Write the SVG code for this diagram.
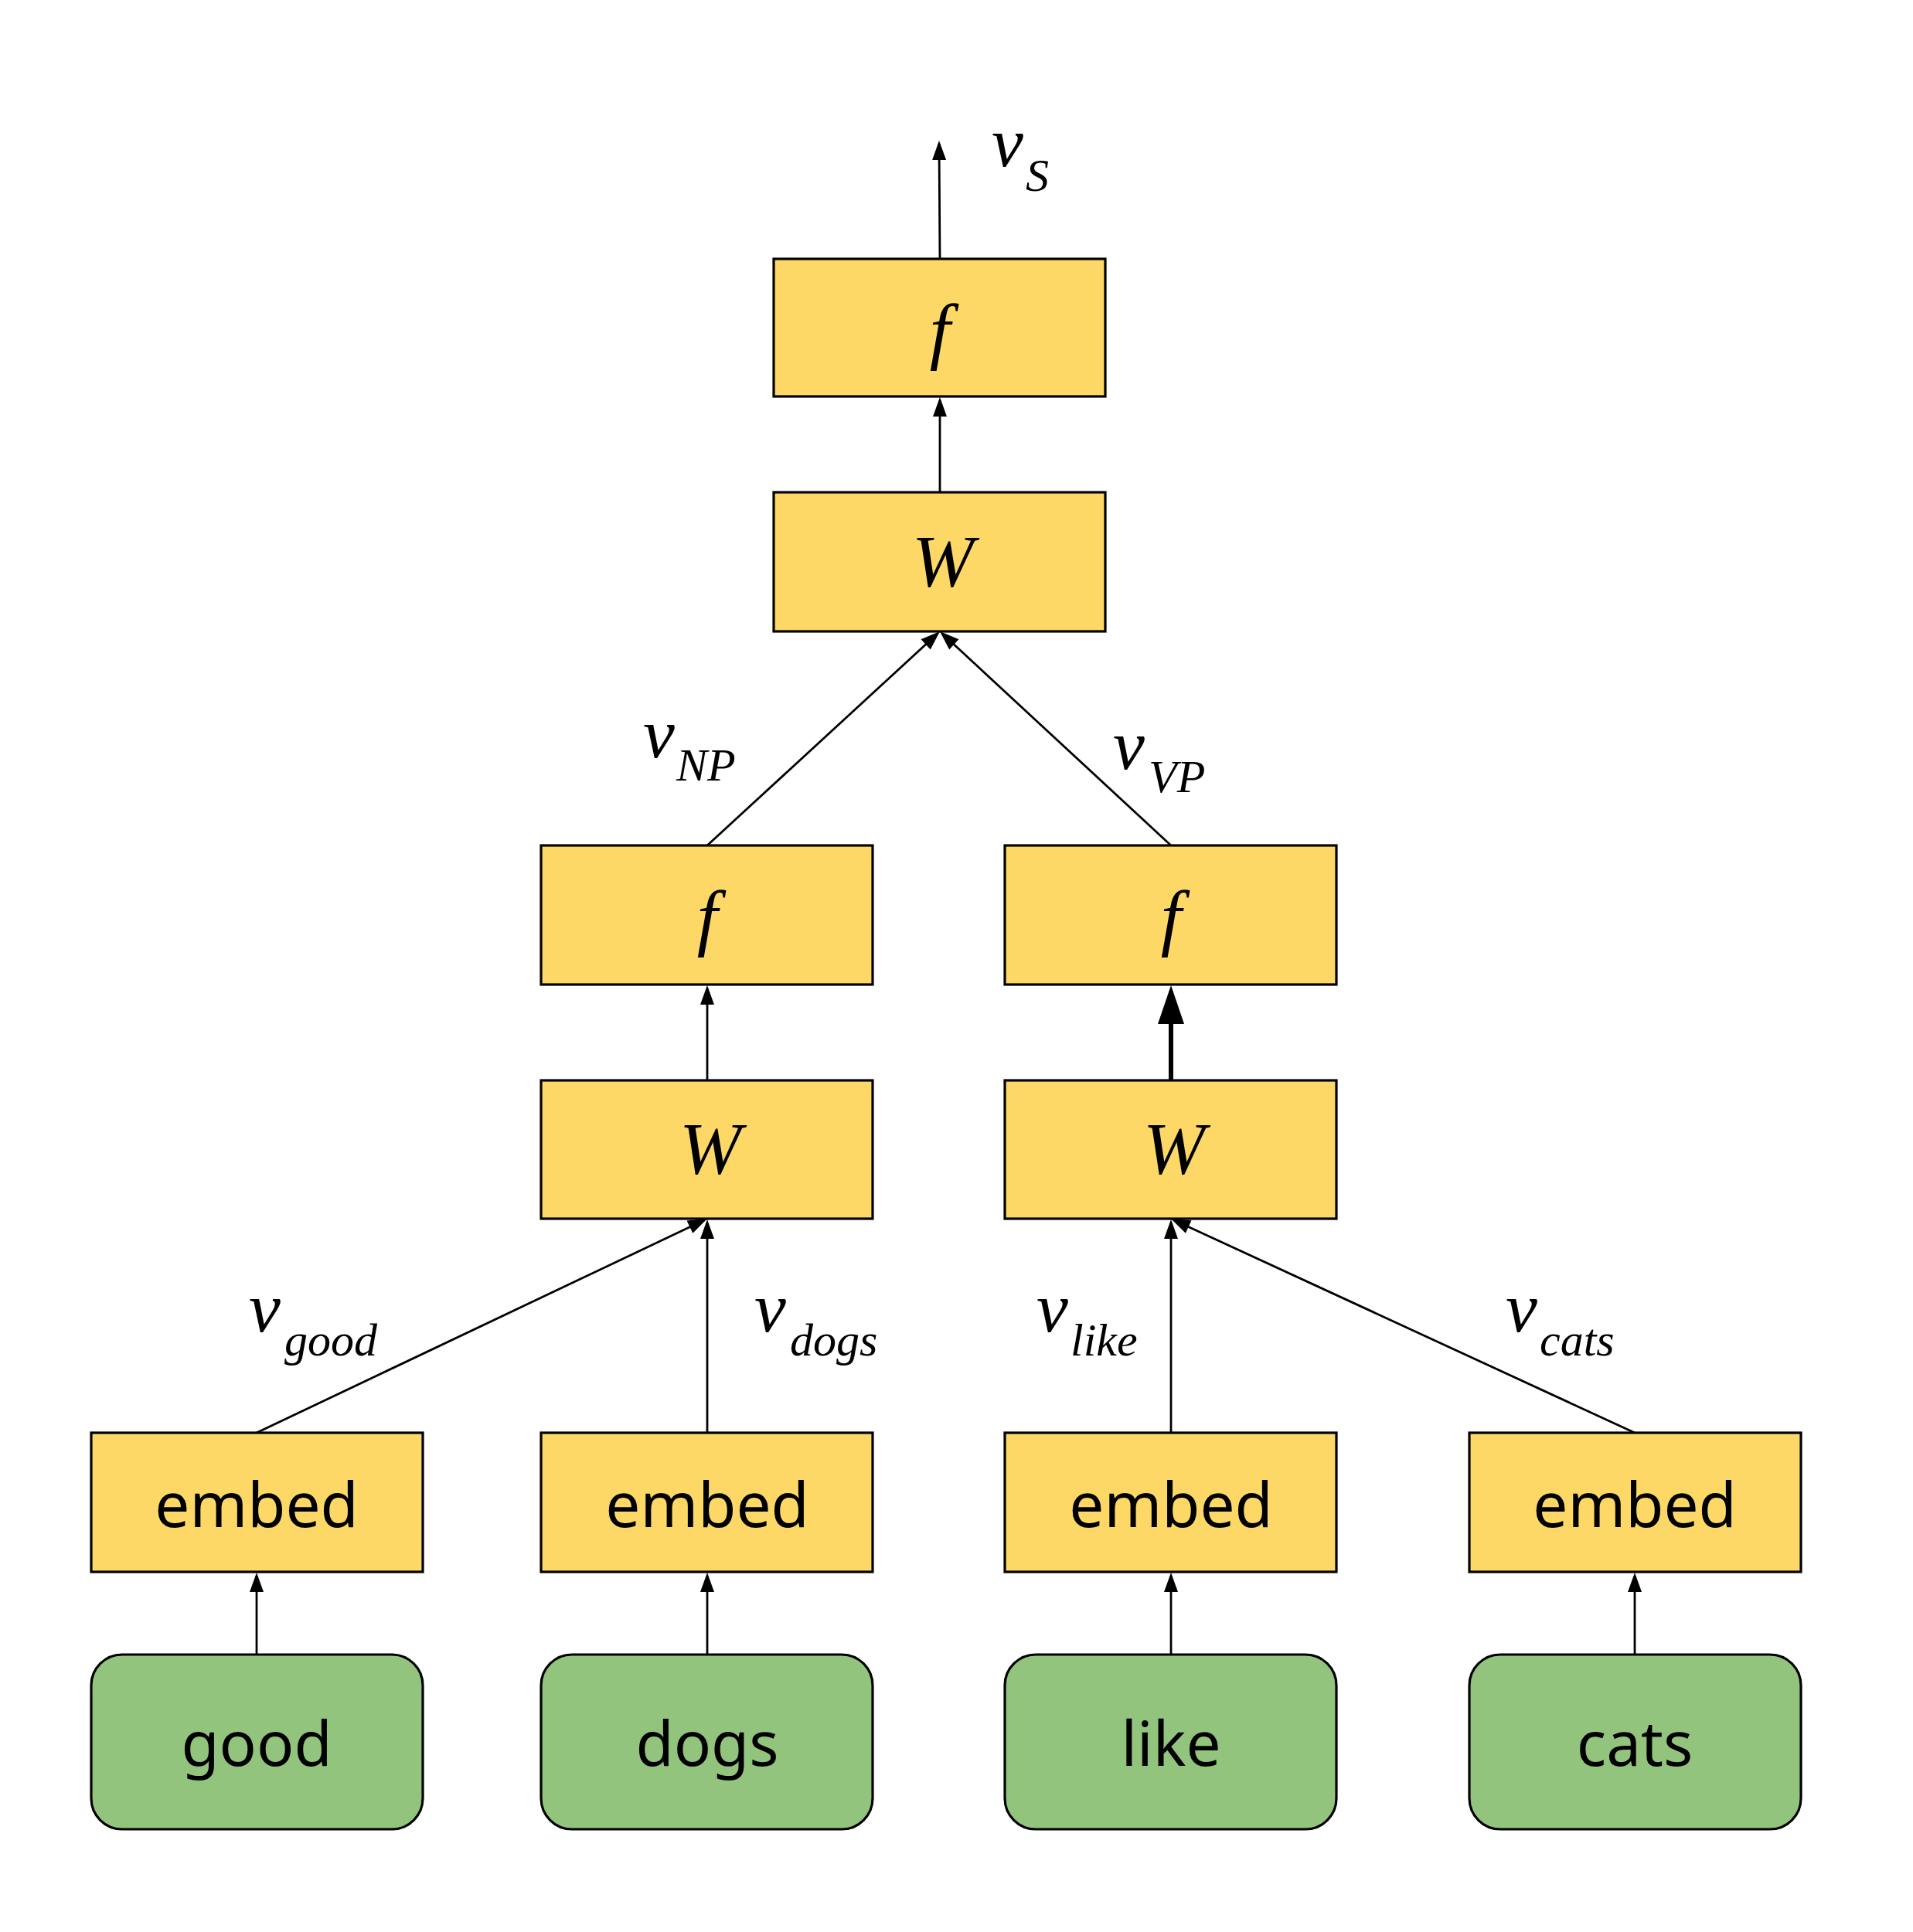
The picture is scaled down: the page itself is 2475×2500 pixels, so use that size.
<svg xmlns="http://www.w3.org/2000/svg" width="2475" height="2500" viewBox="0 0 2475 2500">
<style>
.box{fill:#FDD866;stroke:#000;stroke-width:3.2}
.word{fill:#93C47D;stroke:#000;stroke-width:3.2}
.math{font-family:"Liberation Serif","DejaVu Serif",serif;font-style:italic;fill:#000}
.big{font-size:92px}
.fn{font-size:96px}
.sub{font-size:60px}
.lbl{font-family:"Noto Sans","Open Sans",sans-serif;font-size:80px;fill:#000;text-anchor:middle}
.edge{stroke:#000;stroke-width:2.8;fill:none;marker-end:url(#ah)}
.edge-thick{stroke:#000;stroke-width:6;fill:none;marker-end:url(#ahb)}
</style>
<defs>
<marker id="ah" markerUnits="userSpaceOnUse" markerWidth="25" markerHeight="18" refX="21" refY="9" orient="auto" overflow="visible">
<path d="M0,0 L25,9 L0,18 z" fill="#000"/>
</marker>
<marker id="ahb" markerUnits="userSpaceOnUse" markerWidth="50" markerHeight="34" refX="42" refY="17" orient="auto" overflow="visible">
<path d="M0,0 L50,17 L0,34 z" fill="#000"/>
</marker>
</defs>
<rect width="2475" height="2500" fill="#fff"/>

<g id="connectors">
<line class="edge" x1="1216" y1="335" x2="1215" y2="186"/>
<line class="edge" x1="1216" y1="637" x2="1216" y2="518"/>
<line class="edge" x1="915" y1="1094" x2="1213.1" y2="819.7"/>
<line class="edge" x1="1515" y1="1094" x2="1218.9" y2="819.7"/>
<line class="edge" x1="915" y1="1398" x2="915" y2="1279"/>
<line class="edge-thick" x1="1515" y1="1398" x2="1515" y2="1283"/>
<line class="edge" x1="332" y1="1854" x2="911.4" y2="1578.7"/>
<line class="edge" x1="915" y1="1854" x2="915" y2="1582"/>
<line class="edge" x1="1515" y1="1854" x2="1515" y2="1582"/>
<line class="edge" x1="2115" y1="1854" x2="1518.6" y2="1578.7"/>
<line class="edge" x1="332" y1="2141" x2="332" y2="2039"/>
<line class="edge" x1="915" y1="2141" x2="915" y2="2039"/>
<line class="edge" x1="1515" y1="2141" x2="1515" y2="2039"/>
<line class="edge" x1="2115" y1="2141" x2="2115" y2="2039"/>
</g>

<g id="edge-labels">
<text class="math big" x="1283" y="215">v<tspan class="sub" x="1327" y="247">S</tspan></text>
<text class="math big" x="832" y="980">v<tspan class="sub" x="875" y="1010">NP</tspan></text>
<text class="math big" x="1440" y="995">v<tspan class="sub" x="1486" y="1025">VP</tspan></text>
<text class="math big" x="322" y="1723">v<tspan class="sub" x="368" y="1754">good</tspan></text>
<text class="math big" x="976" y="1723">v<tspan class="sub" x="1022" y="1754">dogs</tspan></text>
<text class="math big" x="1341" y="1723">v<tspan class="sub" x="1385" y="1754">like</tspan></text>
<text class="math big" x="1948" y="1723">v<tspan class="sub" x="1992" y="1754">cats</tspan></text>
</g>

<g id="f-top"><rect class="box" x="1001" y="335" width="429" height="178"/><text class="math fn" x="1216" y="460" text-anchor="middle">f</text></g>
<g id="W-top"><rect class="box" x="1001" y="637" width="429" height="180"/><text class="math fn" x="1220" y="759" text-anchor="middle">W</text></g>

<g id="f-left"><rect class="box" x="700" y="1094" width="429" height="180"/><text class="math fn" x="915" y="1219" text-anchor="middle">f</text></g>
<g id="f-right"><rect class="box" x="1300" y="1094" width="429" height="180"/><text class="math fn" x="1515" y="1219" text-anchor="middle">f</text></g>

<g id="W-left"><rect class="box" x="700" y="1398" width="429" height="179"/><text class="math fn" x="919" y="1519" text-anchor="middle">W</text></g>
<g id="W-right"><rect class="box" x="1300" y="1398" width="429" height="179"/><text class="math fn" x="1519" y="1519" text-anchor="middle">W</text></g>

<g id="embed-good"><rect class="box" x="118" y="1854" width="429" height="180"/><text class="lbl" x="332" y="1976">embed</text></g>
<g id="embed-dogs"><rect class="box" x="700" y="1854" width="429" height="180"/><text class="lbl" x="915" y="1976">embed</text></g>
<g id="embed-like"><rect class="box" x="1300" y="1854" width="429" height="180"/><text class="lbl" x="1515" y="1976">embed</text></g>
<g id="embed-cats"><rect class="box" x="1901" y="1854" width="429" height="180"/><text class="lbl" x="2115" y="1976">embed</text></g>

<g id="word-good"><rect class="word" x="118" y="2141" width="429" height="226" rx="40" ry="40"/><text class="lbl" x="332" y="2285">good</text></g>
<g id="word-dogs"><rect class="word" x="700" y="2141" width="429" height="226" rx="40" ry="40"/><text class="lbl" x="915" y="2285">dogs</text></g>
<g id="word-like"><rect class="word" x="1300" y="2141" width="429" height="226" rx="40" ry="40"/><text class="lbl" x="1515" y="2285">like</text></g>
<g id="word-cats"><rect class="word" x="1901" y="2141" width="429" height="226" rx="40" ry="40"/><text class="lbl" x="2115" y="2285">cats</text></g>
</svg>
